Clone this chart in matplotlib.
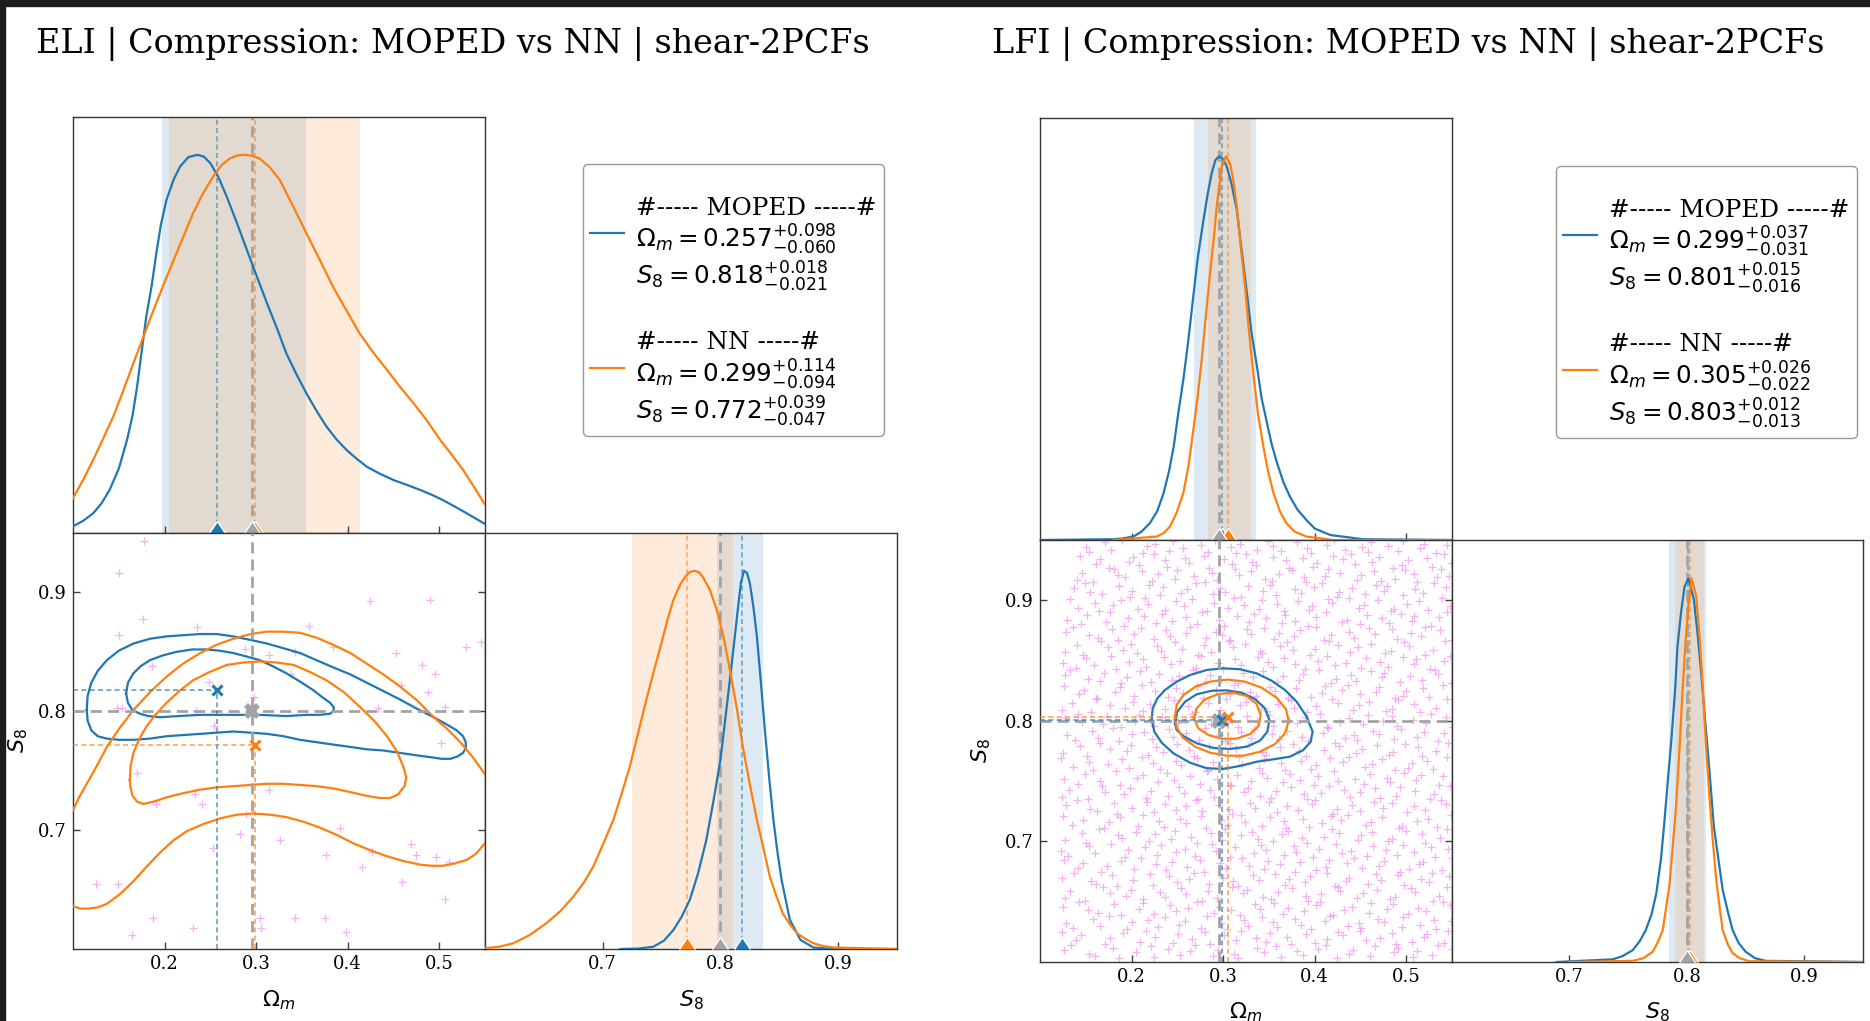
import numpy as np
import matplotlib
matplotlib.use("Agg")
import matplotlib.pyplot as plt
from matplotlib.lines import Line2D
from matplotlib.patches import Rectangle

W, H = 1870, 1021
BLUE = "#1f77b4"
ORANGE = "#ff7f0e"
GRAY = "#a3a3a3"

# ---------------- data ----------------
om_lim = [0.1, 0.55]
s8_lim = [0.6, 0.95]
om_ticks = [0.2, 0.3, 0.4, 0.5]
s8_ticks = [0.7, 0.8, 0.9]
fiducial_om = 0.296
fiducial_s8 = 0.8

eli_title = "ELI | Compression: MOPED vs NN | shear-2PCFs"
lfi_title = "LFI | Compression: MOPED vs NN | shear-2PCFs"

# [median, +err, -err]
eli_moped_om = [0.257, 0.098, 0.060]
eli_moped_s8 = [0.818, 0.018, 0.021]
eli_nn_om = [0.299, 0.114, 0.094]
eli_nn_s8 = [0.772, 0.039, 0.047]
lfi_moped_om = [0.299, 0.037, 0.031]
lfi_moped_s8 = [0.801, 0.015, 0.016]
lfi_nn_om = [0.305, 0.026, 0.022]
lfi_nn_s8 = [0.803, 0.012, 0.013]

# 1D marginals (normalised to peak 1)
eli_om_moped_x = [0.100, 0.111, 0.122, 0.131, 0.140, 0.150, 0.159, 0.165, 0.170, 0.175, 0.180, 0.186, 0.191, 0.196, 0.202, 0.210, 0.217, 0.226, 0.236, 0.243, 0.250, 0.259, 0.268, 0.279, 0.290, 0.301, 0.312, 0.323, 0.333, 0.344, 0.355, 0.366, 0.377, 0.388, 0.399, 0.410, 0.421, 0.435, 0.450, 0.465, 0.479, 0.492, 0.504, 0.517, 0.530, 0.550]
eli_om_moped_y = [0.018, 0.032, 0.052, 0.078, 0.114, 0.170, 0.246, 0.310, 0.387, 0.480, 0.572, 0.655, 0.740, 0.815, 0.880, 0.935, 0.969, 0.994, 1.000, 0.995, 0.978, 0.940, 0.889, 0.820, 0.748, 0.677, 0.607, 0.540, 0.475, 0.420, 0.369, 0.323, 0.281, 0.247, 0.219, 0.196, 0.175, 0.157, 0.140, 0.127, 0.114, 0.101, 0.087, 0.070, 0.052, 0.024]
eli_om_nn_x = [0.100, 0.111, 0.122, 0.133, 0.144, 0.155, 0.166, 0.177, 0.188, 0.199, 0.210, 0.221, 0.231, 0.242, 0.253, 0.262, 0.271, 0.279, 0.286, 0.295, 0.304, 0.315, 0.326, 0.340, 0.355, 0.370, 0.384, 0.399, 0.413, 0.428, 0.443, 0.457, 0.472, 0.487, 0.501, 0.514, 0.526, 0.538, 0.550]
eli_om_nn_y = [0.092, 0.140, 0.193, 0.250, 0.308, 0.377, 0.449, 0.520, 0.590, 0.657, 0.722, 0.786, 0.845, 0.898, 0.942, 0.972, 0.990, 0.998, 1.000, 0.998, 0.990, 0.967, 0.933, 0.866, 0.792, 0.720, 0.651, 0.587, 0.528, 0.477, 0.431, 0.387, 0.343, 0.296, 0.246, 0.206, 0.167, 0.122, 0.075]

eli_s8_moped_x = [0.715, 0.730, 0.743, 0.752, 0.760, 0.767, 0.774, 0.781, 0.788, 0.794, 0.800, 0.804, 0.808, 0.812, 0.815, 0.8175, 0.820, 0.8225, 0.825, 0.828, 0.831, 0.8345, 0.838, 0.8415, 0.845, 0.8485, 0.852, 0.859, 0.868, 0.879, 0.896, 0.950]
eli_s8_moped_y = [0.000, 0.001, 0.006, 0.022, 0.050, 0.085, 0.130, 0.200, 0.288, 0.390, 0.500, 0.605, 0.711, 0.820, 0.905, 0.970, 1.000, 0.995, 0.967, 0.905, 0.826, 0.700, 0.570, 0.450, 0.341, 0.255, 0.182, 0.077, 0.024, 0.004, 0.000, 0.000]
eli_s8_nn_x = [0.600, 0.612, 0.624, 0.638, 0.652, 0.664, 0.675, 0.684, 0.692, 0.700, 0.709, 0.716, 0.723, 0.730, 0.737, 0.743, 0.749, 0.755, 0.760, 0.766, 0.770, 0.774, 0.778, 0.782, 0.785, 0.791, 0.797, 0.803, 0.808, 0.814, 0.819, 0.825, 0.831, 0.837, 0.842, 0.8475, 0.853, 0.859, 0.865, 0.872, 0.879, 0.887, 0.896, 0.950]
eli_s8_nn_y = [0.002, 0.006, 0.015, 0.037, 0.068, 0.100, 0.138, 0.176, 0.218, 0.275, 0.341, 0.410, 0.482, 0.570, 0.658, 0.730, 0.799, 0.870, 0.923, 0.965, 0.984, 0.997, 1.000, 0.996, 0.984, 0.950, 0.896, 0.820, 0.738, 0.635, 0.535, 0.435, 0.341, 0.260, 0.191, 0.140, 0.094, 0.065, 0.042, 0.027, 0.015, 0.008, 0.004, 0.000]

lfi_om_moped_x = [0.100, 0.180, 0.190, 0.202, 0.211, 0.220, 0.228, 0.235, 0.241, 0.246, 0.251, 0.2565, 0.262, 0.267, 0.272, 0.278, 0.283, 0.2875, 0.2915, 0.2955, 0.300, 0.304, 0.309, 0.315, 0.320, 0.326, 0.331, 0.337, 0.342, 0.348, 0.353, 0.359, 0.366, 0.373, 0.381, 0.391, 0.400, 0.417, 0.453, 0.550]
lfi_om_moped_y = [0.000, 0.002, 0.004, 0.009, 0.022, 0.044, 0.075, 0.122, 0.180, 0.243, 0.330, 0.417, 0.520, 0.626, 0.730, 0.826, 0.900, 0.956, 0.990, 1.000, 0.993, 0.973, 0.930, 0.860, 0.760, 0.643, 0.540, 0.452, 0.370, 0.304, 0.250, 0.200, 0.150, 0.113, 0.080, 0.052, 0.030, 0.013, 0.002, 0.000]
lfi_om_nn_x = [0.180, 0.2275, 0.235, 0.242, 0.249, 0.2565, 0.262, 0.267, 0.272, 0.2766, 0.281, 0.2857, 0.290, 0.293, 0.2985, 0.303, 0.3075, 0.311, 0.315, 0.319, 0.324, 0.328, 0.333, 0.338, 0.344, 0.349, 0.355, 0.362, 0.369, 0.378, 0.391, 0.420, 0.550]
lfi_om_nn_y = [0.000, 0.009, 0.018, 0.035, 0.070, 0.122, 0.190, 0.278, 0.370, 0.469, 0.580, 0.695, 0.790, 0.869, 0.973, 1.000, 0.982, 0.940, 0.869, 0.770, 0.660, 0.550, 0.434, 0.330, 0.243, 0.180, 0.122, 0.075, 0.044, 0.022, 0.009, 0.000, 0.000]

lfi_s8_moped_x = [0.689, 0.737, 0.745, 0.754, 0.760, 0.765, 0.770, 0.774, 0.778, 0.781, 0.784, 0.787, 0.790, 0.792, 0.795, 0.798, 0.8014, 0.806, 0.809, 0.812, 0.815, 0.818, 0.8205, 0.823, 0.827, 0.8305, 0.835, 0.839, 0.844, 0.850, 0.858, 0.867, 0.950]
lfi_s8_moped_y = [0.000, 0.007, 0.015, 0.031, 0.055, 0.083, 0.125, 0.179, 0.270, 0.370, 0.480, 0.587, 0.710, 0.822, 0.910, 0.978, 1.000, 0.944, 0.860, 0.761, 0.650, 0.544, 0.450, 0.353, 0.265, 0.188, 0.130, 0.083, 0.050, 0.027, 0.010, 0.003, 0.000]
lfi_s8_nn_x = [0.700, 0.754, 0.763, 0.771, 0.775, 0.7795, 0.782, 0.785, 0.788, 0.791, 0.794, 0.7965, 0.799, 0.801, 0.804, 0.808, 0.811, 0.8135, 0.816, 0.819, 0.822, 0.825, 0.828, 0.8305, 0.835, 0.839, 0.845, 0.853, 0.950]
lfi_s8_nn_y = [0.000, 0.003, 0.010, 0.027, 0.050, 0.083, 0.135, 0.196, 0.300, 0.414, 0.570, 0.718, 0.840, 0.918, 1.000, 0.952, 0.840, 0.718, 0.580, 0.440, 0.320, 0.214, 0.140, 0.083, 0.045, 0.023, 0.010, 0.002, 0.000]

# 2D contours (68% inner, 95% outer)
eli_moped_in_om = [0.158, 0.160, 0.166, 0.174, 0.184, 0.198, 0.213, 0.230, 0.246, 0.260, 0.275, 0.290, 0.304, 0.318, 0.333, 0.348, 0.362, 0.372, 0.381, 0.385, 0.384, 0.381, 0.370, 0.355, 0.333, 0.304, 0.275, 0.239, 0.215, 0.195, 0.182, 0.173, 0.165, 0.160, 0.158]
eli_moped_in_s8 = [0.815, 0.824, 0.832, 0.838, 0.843, 0.847, 0.850, 0.852, 0.852, 0.851, 0.849, 0.846, 0.843, 0.838, 0.832, 0.825, 0.818, 0.812, 0.807, 0.803, 0.800, 0.798, 0.797, 0.797, 0.796, 0.797, 0.797, 0.797, 0.796, 0.795, 0.796, 0.798, 0.801, 0.807, 0.815]
eli_moped_out_om = [0.115, 0.116, 0.120, 0.127, 0.137, 0.150, 0.166, 0.184, 0.202, 0.220, 0.239, 0.257, 0.275, 0.294, 0.312, 0.330, 0.348, 0.366, 0.384, 0.403, 0.421, 0.439, 0.457, 0.476, 0.494, 0.508, 0.519, 0.526, 0.529, 0.529, 0.526, 0.520, 0.512, 0.503, 0.494, 0.475, 0.457, 0.439, 0.421, 0.403, 0.384, 0.366, 0.348, 0.330, 0.312, 0.294, 0.275, 0.257, 0.239, 0.220, 0.202, 0.184, 0.166, 0.150, 0.137, 0.127, 0.120, 0.116, 0.115]
eli_moped_out_s8 = [0.801, 0.813, 0.824, 0.834, 0.843, 0.851, 0.857, 0.861, 0.863, 0.864, 0.865, 0.865, 0.863, 0.860, 0.857, 0.853, 0.849, 0.843, 0.837, 0.831, 0.824, 0.817, 0.810, 0.802, 0.795, 0.789, 0.784, 0.779, 0.774, 0.769, 0.765, 0.762, 0.760, 0.760, 0.761, 0.763, 0.765, 0.767, 0.768, 0.770, 0.772, 0.774, 0.776, 0.779, 0.781, 0.782, 0.783, 0.782, 0.781, 0.780, 0.779, 0.777, 0.776, 0.776, 0.777, 0.779, 0.784, 0.792, 0.801]
eli_nn_in_om = [0.162, 0.163, 0.166, 0.172, 0.180, 0.190, 0.202, 0.216, 0.231, 0.249, 0.268, 0.286, 0.304, 0.323, 0.341, 0.359, 0.377, 0.396, 0.413, 0.429, 0.443, 0.454, 0.461, 0.464, 0.462, 0.455, 0.446, 0.435, 0.420, 0.403, 0.385, 0.366, 0.348, 0.330, 0.311, 0.293, 0.275, 0.257, 0.238, 0.220, 0.204, 0.188, 0.177, 0.170, 0.165, 0.163, 0.162]
eli_nn_in_s8 = [0.742, 0.754, 0.765, 0.776, 0.787, 0.797, 0.807, 0.817, 0.826, 0.833, 0.839, 0.841, 0.842, 0.841, 0.839, 0.833, 0.826, 0.816, 0.804, 0.792, 0.779, 0.766, 0.753, 0.744, 0.737, 0.730, 0.727, 0.727, 0.729, 0.732, 0.735, 0.737, 0.738, 0.739, 0.739, 0.738, 0.737, 0.736, 0.734, 0.731, 0.728, 0.724, 0.722, 0.724, 0.729, 0.735, 0.742]
eli_nn_out_up_om = [0.100, 0.107, 0.115, 0.126, 0.137, 0.151, 0.166, 0.184, 0.202, 0.220, 0.239, 0.257, 0.275, 0.294, 0.312, 0.330, 0.348, 0.366, 0.384, 0.403, 0.421, 0.439, 0.457, 0.476, 0.494, 0.509, 0.523, 0.537, 0.550]
eli_nn_out_up_s8 = [0.717, 0.728, 0.739, 0.754, 0.770, 0.786, 0.801, 0.816, 0.829, 0.840, 0.849, 0.856, 0.861, 0.865, 0.867, 0.867, 0.866, 0.862, 0.856, 0.849, 0.840, 0.831, 0.821, 0.809, 0.795, 0.785, 0.774, 0.761, 0.747]
eli_nn_out_lo_om = [0.100, 0.108, 0.117, 0.127, 0.137, 0.151, 0.166, 0.180, 0.195, 0.209, 0.224, 0.242, 0.261, 0.279, 0.297, 0.315, 0.333, 0.352, 0.370, 0.388, 0.406, 0.425, 0.443, 0.461, 0.479, 0.492, 0.504, 0.517, 0.530, 0.540, 0.550]
eli_nn_out_lo_s8 = [0.636, 0.634, 0.634, 0.635, 0.638, 0.646, 0.657, 0.669, 0.681, 0.691, 0.699, 0.705, 0.710, 0.713, 0.714, 0.713, 0.711, 0.707, 0.702, 0.696, 0.689, 0.683, 0.678, 0.674, 0.671, 0.670, 0.670, 0.672, 0.675, 0.680, 0.689]

lfi_moped_out_om = [0.2220, 0.2231, 0.2282, 0.2365, 0.2493, 0.2639, 0.2821, 0.3003, 0.3185, 0.3367, 0.3530, 0.3676, 0.3803, 0.3912, 0.3978, 0.3956, 0.3876, 0.3730, 0.3548, 0.3367, 0.3185, 0.3003, 0.2821, 0.2639, 0.2456, 0.2329, 0.2249, 0.2220]
lfi_moped_out_s8 = [0.8007, 0.8104, 0.8187, 0.8256, 0.8325, 0.8380, 0.8422, 0.8436, 0.8428, 0.8394, 0.8333, 0.8256, 0.8159, 0.8035, 0.7910, 0.7827, 0.7758, 0.7703, 0.7681, 0.7661, 0.7626, 0.7601, 0.7607, 0.7653, 0.7731, 0.7819, 0.7910, 0.8007]
lfi_moped_in_om = [0.2474, 0.2500, 0.2584, 0.2711, 0.2875, 0.3039, 0.3203, 0.3348, 0.3457, 0.3505, 0.3483, 0.3403, 0.3257, 0.3075, 0.2893, 0.2711, 0.2565, 0.2493, 0.2474]
lfi_moped_in_s8 = [0.7979, 0.8076, 0.8159, 0.8220, 0.8250, 0.8253, 0.8234, 0.8181, 0.8104, 0.8007, 0.7910, 0.7836, 0.7786, 0.7767, 0.7775, 0.7814, 0.7874, 0.7924, 0.7979]
lfi_nn_out_om = [0.2474, 0.2493, 0.2565, 0.2711, 0.2875, 0.3057, 0.3239, 0.3421, 0.3585, 0.3687, 0.3716, 0.3676, 0.3567, 0.3403, 0.3221, 0.3039, 0.2857, 0.2693, 0.2558, 0.2493, 0.2474]
lfi_nn_out_s8 = [0.8035, 0.8132, 0.8214, 0.8289, 0.8328, 0.8342, 0.8325, 0.8275, 0.8192, 0.8096, 0.7999, 0.7897, 0.7808, 0.7744, 0.7711, 0.7711, 0.7736, 0.7786, 0.7863, 0.7946, 0.8035]
lfi_nn_in_om = [0.2682, 0.2711, 0.2802, 0.2948, 0.3112, 0.3257, 0.3366, 0.3410, 0.3388, 0.3294, 0.3148, 0.2984, 0.2838, 0.2729, 0.2682]
lfi_nn_in_s8 = [0.8021, 0.8104, 0.8179, 0.8223, 0.8234, 0.8206, 0.8140, 0.8049, 0.7957, 0.7891, 0.7852, 0.7852, 0.7883, 0.7938, 0.8021]

# prior samples shown as '+'
eli_pts_om = [0.1775, 0.150, 0.424, 0.490, 0.176, 0.235, 0.150, 0.358, 0.546, 0.529, 0.288, 0.453, 0.342, 0.314, 0.384, 0.186, 0.481, 0.495, 0.338, 0.249, 0.488, 0.458, 0.148, 0.153, 0.433, 0.506, 0.234, 0.298, 0.254, 0.502, 0.170, 0.233, 0.191, 0.241, 0.314, 0.289, 0.282, 0.326, 0.392, 0.253, 0.469, 0.376, 0.475, 0.427, 0.416, 0.497, 0.511, 0.125, 0.149, 0.459, 0.506, 0.187, 0.231, 0.164, 0.304, 0.305, 0.343, 0.375, 0.398]
eli_pts_s8 = [0.9435, 0.916, 0.893, 0.894, 0.878, 0.871, 0.864, 0.872, 0.858, 0.854, 0.852, 0.849, 0.850, 0.847, 0.854, 0.838, 0.839, 0.831, 0.831, 0.825, 0.816, 0.822, 0.803, 0.803, 0.803, 0.804, 0.800, 0.812, 0.788, 0.773, 0.748, 0.730, 0.722, 0.722, 0.734, 0.714, 0.697, 0.692, 0.702, 0.685, 0.688, 0.679, 0.679, 0.682, 0.669, 0.677, 0.673, 0.655, 0.655, 0.656, 0.642, 0.626, 0.618, 0.612, 0.626, 0.618, 0.626, 0.626, 0.614]

# LFI prior samples, read band by band (thousandths): band base + offset
lfi_band_base = [939, 927, 915, 903, 891, 879, 867, 855, 843, 831, 819, 807, 795, 783, 771,
                 759, 747, 735, 723, 711, 699, 687, 675, 663, 651, 639, 627, 615, 603]
lfi_band_om = [
    [150, 153, 171, 178, 190, 212, 217, 226, 241, 245, 256, 276, 284, 291, 309, 314, 318, 337, 349, 355, 363, 381, 392, 396, 414, 421, 433, 452, 458, 462, 480, 491, 497, 515, 519, 532, 545],
    [144, 161, 166, 175, 197, 202, 208, 225, 237, 239, 258, 263, 279, 285, 301, 310, 325, 332, 336, 354, 369, 372, 387, 398, 403, 420, 431, 440, 444, 463, 470, 486, 495, 502, 523, 528, 541, 549],
    [140, 146, 158, 181, 185, 193, 211, 222, 229, 247, 250, 268, 280, 288, 293, 313, 317, 330, 346, 353, 361, 375, 388, 390, 411, 415, 428, 446, 451, 465, 472, 488, 499, 508, 512, 534, 538, 547],
    [137, 149, 155, 168, 186, 198, 200, 219, 231, 234, 254, 261, 270, 289, 297, 302, 320, 327, 344, 351, 358, 378, 385, 399, 408, 424, 427, 441, 455, 467, 476, 479, 496, 510, 518, 530, 543],
    [133, 141, 160, 164, 180, 189, 207, 215, 218, 236, 249, 257, 266, 282, 290, 305, 312, 323, 339, 342, 359, 367, 382, 394, 397, 415, 419, 437, 448, 454, 469, 483, 487, 501, 514, 524, 539, 548],
    [130, 145, 151, 172, 177, 192, 196, 214, 227, 233, 244, 260, 271, 277, 296, 301, 315, 328, 334, 347, 364, 368, 379, 393, 401, 412, 430, 435, 450, 457, 474, 481, 494, 506, 509, 527, 536, 544],
    [128, 136, 154, 163, 179, 185, 203, 210, 224, 238, 242, 259, 264, 281, 292, 299, 308, 326, 331, 345, 356, 361, 377, 384, 402, 410, 418, 438, 443, 459, 466, 485, 490, 505, 516, 520, 537, 550],
    [127, 140, 147, 167, 174, 191, 199, 206, 228, 232, 247, 255, 273, 279, 287, 306, 311, 324, 340, 343, 362, 370, 376, 395, 400, 416, 425, 439, 447, 461, 477, 483, 498, 503, 521, 529, 542],
    [125, 139, 150, 159, 178, 183, 197, 212, 216, 235, 243, 253, 270, 276, 294, 300, 313, 320, 338, 349, 354, 367, 379, 389, 404, 413, 422, 434, 451, 456, 471, 480, 496, 508, 511, 526, 541, 548],
    [127, 133, 152, 165, 170, 189, 195, 209, 221, 230, 244, 252, 267, 281, 286, 298, 316, 322, 333, 344, 359, 365, 383, 387, 405, 418, 423, 440, 445, 462, 473, 476, 493, 504, 517, 531, 535, 549],
    [126, 143, 148, 162, 182, 187, 203, 211, 226, 240, 248, 256, 272, 278, 292, 307, 312, 329, 336, 351, 357, 371, 380, 396, 408, 411, 430, 436, 449, 467, 470, 488, 497, 500, 518, 525, 540],
    [124, 135, 156, 161, 176, 193, 202, 213, 220, 237, 246, 262, 269, 284, 297, 303, 318, 325, 341, 348, 360, 374, 377, 392, 401, 419, 426, 442, 448, 459, 478, 485, 491, 509, 515, 532, 544],
    [127, 141, 146, 169, 173, 188, 204, 208, 225, 233, 251, 258, 266, 287, 291, 305, 316, 326, 337, 350, 355, 372, 381, 389, 406, 414, 428, 438, 453, 458, 475, 484, 490, 507, 522, 527, 543, 550],
    [129, 138, 157, 163, 180, 186, 200, 214, 222, 241, 245, 260, 274, 280, 295, 302, 319, 330, 334, 353, 361, 370, 386, 393, 409, 415, 433, 443, 446, 464, 470, 487, 494, 512, 519, 535, 541],
    [125, 144, 151, 166, 177, 195, 199, 218, 227, 234, 250, 263, 268, 285, 294, 308, 314, 328, 342, 347, 362, 376, 383, 391, 410, 422, 427, 445, 452, 468, 481, 486, 499, 513, 517, 533, 546],
    [123, 136, 153, 158, 174, 190, 197, 211, 223, 231, 249, 254, 271, 283, 289, 304, 317, 321, 339, 345, 363, 368, 385, 396, 402, 417, 431, 437, 455, 463, 474, 488, 502, 506, 523, 529, 545],
    [126, 142, 149, 165, 183, 187, 206, 213, 229, 239, 246, 264, 275, 282, 293, 309, 315, 331, 343, 348, 365, 373, 384, 399, 404, 421, 426, 444, 454, 460, 479, 482, 498, 511, 516, 536, 540],
    [124, 132, 152, 168, 171, 192, 198, 216, 221, 240, 252, 257, 273, 286, 290, 307, 323, 327, 340, 352, 358, 374, 388, 392, 407, 416, 432, 439, 450, 466, 471, 489, 493, 510, 526, 530, 548],
    [128, 140, 155, 162, 181, 184, 201, 217, 224, 236, 248, 259, 270, 277, 296, 306, 310, 329, 335, 350, 359, 370, 382, 397, 400, 420, 424, 441, 449, 465, 475, 484, 501, 508, 520, 538, 543],
    [125, 135, 147, 170, 175, 187, 207, 212, 230, 235, 253, 260, 276, 281, 298, 305, 320, 324, 343, 351, 366, 369, 387, 394, 408, 418, 429, 436, 456, 461, 473, 492, 495, 512, 524, 534, 549],
    [127, 146, 150, 164, 185, 190, 205, 219, 226, 243, 247, 265, 272, 287, 299, 302, 319, 332, 338, 355, 364, 371, 386, 392, 410, 419, 427, 447, 451, 463, 480, 485, 500, 517, 521, 537, 544],
    [123, 131, 154, 160, 178, 193, 196, 215, 228, 232, 249, 258, 269, 288, 292, 308, 313, 334, 341, 347, 366, 377, 380, 398, 405, 423, 430, 440, 457, 464, 478, 490, 496, 509, 527, 531, 546],
    [126, 141, 147, 167, 173, 189, 203, 210, 227, 238, 244, 261, 275, 279, 297, 303, 321, 328, 345, 349, 362, 378, 384, 401, 412, 416, 435, 443, 452, 470, 476, 493, 503, 514, 518, 539, 550],
    [124, 137, 156, 161, 179, 184, 202, 220, 223, 241, 250, 263, 268, 285, 300, 311, 316, 333, 339, 357, 368, 372, 389, 395, 413, 422, 434, 438, 458, 467, 472, 491, 498, 516, 525, 528, 547],
    [127, 133, 149, 169, 176, 194, 199, 213, 231, 236, 254, 259, 277, 283, 293, 310, 322, 326, 344, 352, 360, 375, 390, 393, 407, 425, 428, 446, 453, 468, 482, 488, 505, 510, 529, 536, 545],
    [125, 143, 152, 163, 181, 188, 208, 212, 225, 242, 248, 262, 271, 290, 295, 309, 318, 335, 340, 356, 365, 371, 388, 402, 406, 420, 432, 441, 459, 462, 479, 486, 502, 513, 522, 540, 548],
    [128, 136, 158, 166, 175, 195, 201, 218, 229, 237, 252, 258, 276, 282, 298, 304, 323, 327, 342, 354, 359, 379, 385, 396, 411, 417, 436, 448, 451, 469, 476, 495, 497, 515, 530, 533, 549],
    [124, 139, 145, 171, 176, 191, 209, 216, 226, 245, 251, 266, 280, 286, 301, 314, 320, 336, 347, 351, 370, 374, 391, 400, 414, 426, 431, 449, 456, 471, 484, 489, 506, 519, 523, 541, 546],
    [126, 134, 153, 160, 180, 186, 205, 221, 224, 240, 253, 264, 269, 289, 294, 312, 316, 337, 345, 358, 363, 381, 387, 404, 412, 424, 438, 442, 460, 466, 487, 491, 507, 512, 528, 535, 550],
]
s8_off_a = [5, 1, 9, 3, 11, 0, 6, 8, 2, 10, 4, 7, 1, 11, 5, 0, 8, 3, 10, 6, 2, 9, 4, 0, 7, 11, 3, 5, 1, 9, 6, 2, 10, 4, 8, 0, 7, 11, 3, 6]
s8_off_b = [2, 8, 0, 11, 6, 4, 9, 1, 7, 3, 10, 5, 0, 8, 2, 11, 6, 9, 3, 1, 7, 10, 4, 0, 5, 11, 8, 2, 6, 9, 1, 3, 10, 7, 0, 4, 11, 5, 8, 2]
s8_off_c = [10, 3, 7, 0, 5, 9, 2, 11, 6, 1, 8, 4, 10, 0, 7, 3, 11, 5, 2, 9, 6, 0, 8, 1, 4, 10, 7, 11, 3, 5, 9, 0, 2, 6, 8, 1, 11, 4, 7, 3]
s8_off_d = [7, 11, 4, 2, 9, 0, 5, 10, 1, 8, 3, 6, 11, 2, 7, 4, 0, 9, 5, 10, 1, 6, 3, 8, 11, 0, 4, 7, 2, 10, 5, 9, 1, 6, 3, 11, 8, 0, 4, 9]
lfi_band_off = [s8_off_a, s8_off_c, s8_off_b, s8_off_d, s8_off_c, s8_off_a, s8_off_d, s8_off_b,
                s8_off_a, s8_off_d, s8_off_c, s8_off_b, s8_off_d, s8_off_a, s8_off_b, s8_off_c,
                s8_off_a, s8_off_b, s8_off_d, s8_off_c, s8_off_b, s8_off_a, s8_off_c, s8_off_d,
                s8_off_b, s8_off_d, s8_off_a, s8_off_c, s8_off_d]
lfi_pts_om, lfi_pts_s8 = [], []
for base, oms, offs in zip(lfi_band_base, lfi_band_om, lfi_band_off):
    for o, d in zip(oms, offs):
        lfi_pts_om.append(o / 1000)
        lfi_pts_s8.append((base + d) / 1000)


def rect(x0, y0, x1, y1):
    return [x0 / W, 1 - y1 / H, (x1 - x0) / W, (y1 - y0) / H]


plt.rcParams["font.family"] = ["DejaVu Serif"]
plt.rcParams["mathtext.fontset"] = "dejavusans"

fig = plt.figure(figsize=(W / 100, H / 100), dpi=100)
fig.patches.append(Rectangle((0, 1 - 6 / H), 1, 6 / H, transform=fig.transFigure,
                             color="#1c1c1c", zorder=20))
fig.patches.append(Rectangle((0, 0), 5 / W, 1, transform=fig.transFigure,
                             color="#1c1c1c", zorder=20))

DASH_GRAY = (0, (4, 2.2))
DASH_C = (0, (3, 2))
TRI_MS = 12


def style(ax, left=False, right=False, labelbottom=False, labelleft=False, pad=4.5):
    for s in ax.spines.values():
        s.set_color("0.2")
        s.set_linewidth(1.0)
    ax.tick_params(direction="in", length=5, width=1, color="0.25", labelsize=13,
                   bottom=True, top=False, left=left, right=right,
                   labelbottom=labelbottom, labelleft=labelleft, pad=pad)


def corner(r_top, r_2d, r_s8, moped_om, moped_s8, nn_om, nn_s8,
           om_curves, s8_curves, contours_b, contours_o, pts, title, title_x,
           leg_xy, xlab_y, ylab_x, tick_pad):
    ax_t = fig.add_axes(rect(*r_top))
    ax_c = fig.add_axes(rect(*r_2d))
    ax_s = fig.add_axes(rect(*r_s8))

    # ---- top: Omega_m marginal
    for est, c in ((moped_om, BLUE), (nn_om, ORANGE)):
        ax_t.axvspan(est[0] - est[2], est[0] + est[1], color=c, alpha=0.15, lw=0, zorder=0)
    (bx, by), (ox, oy) = om_curves
    ax_t.plot(bx, by, color=BLUE, lw=1.6, zorder=3)
    ax_t.plot(ox, oy, color=ORANGE, lw=1.6, zorder=3)
    ax_t.axvline(moped_om[0], color=BLUE, ls=DASH_C, lw=1.2, alpha=0.6, zorder=2)
    ax_t.axvline(nn_om[0], color=ORANGE, ls=DASH_C, lw=1.2, alpha=0.6, zorder=2)
    ax_t.axvline(fiducial_om, color=GRAY, ls=DASH_GRAY, lw=2, zorder=2)
    ax_t.plot(moped_om[0], 0, marker=10, color=BLUE, mec="white", mew=1, ms=TRI_MS, clip_on=False, zorder=5)
    ax_t.plot(nn_om[0], 0, marker=10, color=ORANGE, mec="white", mew=1, ms=TRI_MS, clip_on=False, zorder=5)
    ax_t.plot(fiducial_om, 0, marker=10, color=GRAY, mec="white", mew=1, ms=TRI_MS, clip_on=False, zorder=6)
    ax_t.set_xlim(om_lim)
    ax_t.set_ylim(0, 1.1)
    ax_t.set_xticks(om_ticks)
    style(ax_t)

    # ---- 2D
    ax_c.plot(pts[0], pts[1], "+", color="violet", alpha=0.62, ms=5.5, mew=0.9, zorder=1)
    for (xx, yy) in contours_b:
        ax_c.plot(xx, yy, color=BLUE, lw=1.6, zorder=3)
    for (xx, yy) in contours_o:
        ax_c.plot(xx, yy, color=ORANGE, lw=1.6, zorder=3)
    ax_c.axvline(fiducial_om, color=GRAY, ls=DASH_GRAY, lw=2, zorder=4)
    ax_c.axhline(fiducial_s8, color=GRAY, ls=DASH_GRAY, lw=2, zorder=4)
    for eo, es, c in ((moped_om, moped_s8, BLUE), (nn_om, nn_s8, ORANGE)):
        ax_c.plot([om_lim[0], eo[0]], [es[0], es[0]], color=c, ls=DASH_C, lw=1.2, alpha=0.7, zorder=4)
        ax_c.plot([eo[0], eo[0]], [s8_lim[0], es[0]], color=c, ls=DASH_C, lw=1.2, alpha=0.7, zorder=4)
        ax_c.plot(eo[0], es[0], "x", color=c, ms=7, mew=2.2, zorder=6)
    ax_c.plot(fiducial_om, fiducial_s8, "X", color=GRAY, ms=11, mew=0, zorder=5)
    ax_c.set_xlim(om_lim)
    ax_c.set_ylim(s8_lim)
    ax_c.set_xticks(om_ticks)
    ax_c.set_yticks(s8_ticks)
    style(ax_c, left=True, right=True, labelbottom=True, labelleft=True, pad=tick_pad)
    ax_c.set_xlabel(r"$\Omega_m$", fontsize=16)
    ax_c.set_ylabel(r"$S_8$", fontsize=16)
    ax_c.xaxis.set_label_coords(0.5, xlab_y)
    ax_c.yaxis.set_label_coords(ylab_x, 0.5)

    # ---- S8 marginal
    for est, c in ((moped_s8, BLUE), (nn_s8, ORANGE)):
        ax_s.axvspan(est[0] - est[2], est[0] + est[1], color=c, alpha=0.15, lw=0, zorder=0)
    (bx, by), (ox, oy) = s8_curves
    ax_s.plot(bx, by, color=BLUE, lw=1.6, zorder=3)
    ax_s.plot(ox, oy, color=ORANGE, lw=1.6, zorder=3)
    ax_s.axvline(moped_s8[0], color=BLUE, ls=DASH_C, lw=1.2, alpha=0.6, zorder=2)
    ax_s.axvline(nn_s8[0], color=ORANGE, ls=DASH_C, lw=1.2, alpha=0.6, zorder=2)
    ax_s.axvline(fiducial_s8, color=GRAY, ls=DASH_GRAY, lw=2, zorder=2)
    ax_s.plot(moped_s8[0], 0, marker=10, color=BLUE, mec="white", mew=1, ms=TRI_MS, clip_on=False, zorder=5)
    ax_s.plot(nn_s8[0], 0, marker=10, color=ORANGE, mec="white", mew=1, ms=TRI_MS, clip_on=False, zorder=5)
    ax_s.plot(fiducial_s8, 0, marker=10, color=GRAY, mec="white", mew=1, ms=TRI_MS, clip_on=False, zorder=6)
    ax_s.set_xlim(s8_lim)
    ax_s.set_ylim(0, 1.1)
    ax_s.set_xticks(s8_ticks)
    style(ax_s, labelbottom=True, pad=tick_pad)
    ax_s.set_xlabel(r"$S_8$", fontsize=16)
    ax_s.xaxis.set_label_coords(0.5, xlab_y)

    # ---- legend
    def lab(name, eo, es):
        return ("\n#----- %s -----#\n" % name
                + r"$\Omega_m = %.3f^{+%.3f}_{-%.3f}$" % tuple(eo) + "\n"
                + r"$S_8 = %.3f^{+%.3f}_{-%.3f}$" % tuple(es))
    handles = [Line2D([], [], color=BLUE, lw=1.6), Line2D([], [], color=ORANGE, lw=1.6)]
    labels = [lab("MOPED", moped_om, moped_s8), lab("NN", nn_om, nn_s8)]
    leg = fig.legend(handles, labels, loc="upper left",
                     bbox_to_anchor=(leg_xy[0] / W, 1 - leg_xy[1] / H),
                     borderaxespad=0, fontsize=17.7, handlelength=1.35, handletextpad=0.5,
                     borderpad=0.3, labelspacing=0.5, framealpha=1, edgecolor="0.6",
                     fancybox=True)
    for t in leg.get_texts():
        t.set_linespacing(1.12)

    fig.text(title_x / W, 1 - 44 / H, title, fontsize=24, ha="left", va="center")


corner((73, 117, 485, 533), (73, 533, 485, 949), (485, 533, 897, 949),
       eli_moped_om, eli_moped_s8, eli_nn_om, eli_nn_s8,
       ((eli_om_moped_x, eli_om_moped_y), (eli_om_nn_x, eli_om_nn_y)),
       ((eli_s8_moped_x, eli_s8_moped_y), (eli_s8_nn_x, eli_s8_nn_y)),
       [(eli_moped_in_om, eli_moped_in_s8), (eli_moped_out_om, eli_moped_out_s8)],
       [(eli_nn_in_om, eli_nn_in_s8), (eli_nn_out_up_om, eli_nn_out_up_s8),
        (eli_nn_out_lo_om, eli_nn_out_lo_s8)],
       (eli_pts_om, eli_pts_s8), eli_title, 36, (583, 164), -0.094, -0.104, 4.5)

corner((1040, 118, 1452, 540), (1040, 540, 1452, 962), (1452, 540, 1863, 962),
       lfi_moped_om, lfi_moped_s8, lfi_nn_om, lfi_nn_s8,
       ((lfi_om_moped_x, lfi_om_moped_y), (lfi_om_nn_x, lfi_om_nn_y)),
       ((lfi_s8_moped_x, lfi_s8_moped_y), (lfi_s8_nn_x, lfi_s8_nn_y)),
       [(lfi_moped_in_om, lfi_moped_in_s8), (lfi_moped_out_om, lfi_moped_out_s8)],
       [(lfi_nn_in_om, lfi_nn_in_s8), (lfi_nn_out_om, lfi_nn_out_s8)],
       (lfi_pts_om, lfi_pts_s8), lfi_title, 992, (1556, 166), -0.09, -0.114, 4.5)

fig.savefig("out.png", dpi=100, facecolor="white")
